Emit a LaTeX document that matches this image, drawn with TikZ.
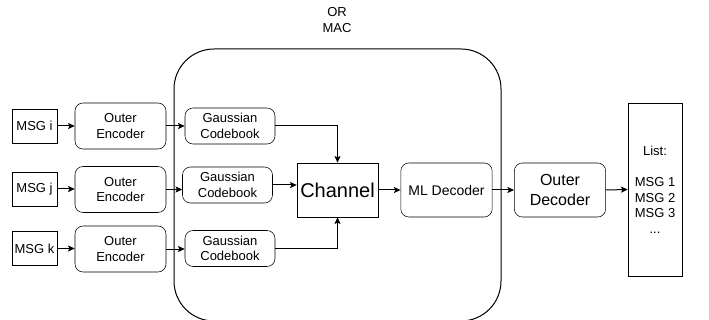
\documentclass[tikz,border=0pt]{standalone}
\usepackage{fontspec}
\setmainfont{Liberation Sans}
\usetikzlibrary{arrows.meta}

\tikzset{
  txt/.style={font=\fontsize{9.75}{11.7}\selectfont, align=center, inner sep=0.75pt},
  msgbox/.style={txt, draw, rectangle, minimum width=33.75pt, minimum height=25.5pt},
  encbox/.style={txt, draw, rounded corners=6pt, minimum width=68.25pt, minimum height=34.5pt},
  gaussbox/.style={txt, draw, rounded corners=6pt, minimum width=67.5pt, minimum height=27pt},
  decbox/.style={txt, draw, rounded corners=6pt, minimum width=68.5pt, minimum height=40.5pt},
  link/.style={-{Stealth[length=5pt,width=4.5pt,inset=1pt]}, line width=0.75pt},
}

\begin{document}
\begin{tikzpicture}[x=0.75pt,y=0.75pt,yscale=-1,xscale=1]
\useasboundingbox (0,0) rectangle (709,320);

%Rounded Rect (channel region)
\draw [line width=0.75pt, rounded corners=30pt] (174,49) rectangle (501,321);

% Text Node
\node [txt] (ormac) at (337,20) {OR\\MAC};

% Messages
\node [msgbox] (msgi) at (34.5,126) {MSG i};
\node [msgbox] (msgj) at (34.5,189) {MSG j};
\node [msgbox] (msgk) at (34.5,248.5) {MSG k};

% Outer encoders
\node [encbox] (enci) at (120.5,126) {Outer\\Encoder};
\node [encbox] (encj) at (120.5,189.5) {Outer\\Encoder};
\node [encbox] (enck) at (120.5,249) {Outer\\Encoder};

% Gaussian codebooks
\node [gaussbox] (gaui) at (230,126) {Gaussian\\Codebook};
\node [gaussbox] (gauj) at (227.5,185) {Gaussian\\Codebook};
\node [gaussbox] (gauk) at (230,248.5) {Gaussian\\Codebook};

% Channel and decoders
\node [txt, draw, minimum width=60.75pt, minimum height=40.5pt, font=\fontsize{15}{18}\selectfont] (chan) at (337.5,190) {Channel};
\node [decbox, font=\fontsize{10.5}{12.6}\selectfont] (mldec) at (446.5,190) {ML Decoder};
\node [decbox, font=\fontsize{12}{14.4}\selectfont] (outdec) at (560,190) {Outer\\Decoder};
\node [txt, draw, minimum width=40.5pt, minimum height=129.75pt] (list) at (655,189.5) {List:\\[11.7pt]MSG 1\\MSG 2\\MSG 3\\...};

%Straight Lines
\draw [link] (msgi.east) -- (msgi.east -| enci.west);
\draw [link] (msgj.east) -- (msgj.east -| encj.west);
\draw [link] (msgk.east) -- (msgk.east -| enck.west);
\draw [link] (enci.east) -- (enci.east -| gaui.west);
\draw [link] (encj.east) -- (encj.east -| gauj.west);
\draw [link] (enck.east) -- (enck.east -| gauk.west);
\draw [link] (gaui.east) -| (chan.north);
\draw [link] (gauj.east) -- (gauj.east -| chan.west);
\draw [link] (gauk.east) -| (chan.south);
\draw [link] (chan.east) -- (mldec.west);
\draw [link] (mldec.east) -- (outdec.west);
\draw [link] (outdec.east) -- (list.west);

\end{tikzpicture}
\end{document}
